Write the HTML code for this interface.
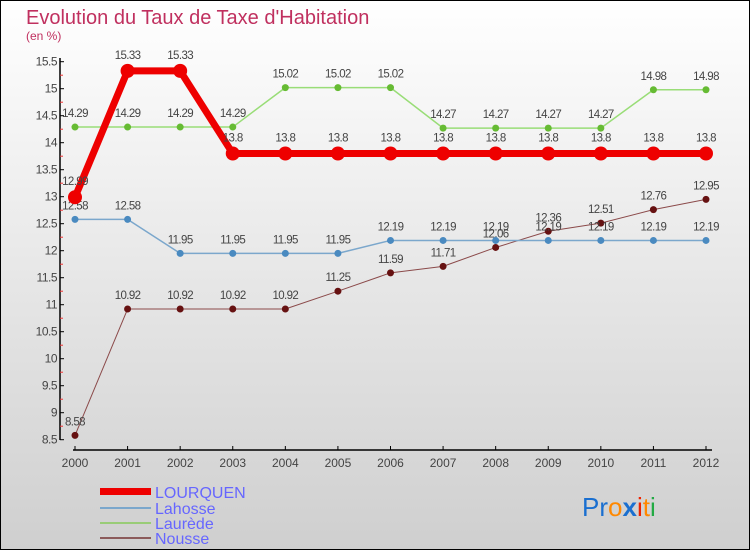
<!DOCTYPE html>
<html><head><meta charset="utf-8"><style>
body{margin:0;padding:0}
svg text{font-family:"Liberation Sans",sans-serif}
</style></head><body>
<svg id="c" width="750" height="550" xmlns="http://www.w3.org/2000/svg">
<defs><linearGradient id="bg" x1="0" y1="0" x2="0" y2="1"><stop offset="0" stop-color="#ffffff"/><stop offset="1" stop-color="#cfcfcf"/></linearGradient></defs>
<rect x="0.5" y="0.5" width="749" height="549" fill="url(#bg)" stroke="#000"/>
<text x="26" y="24" font-size="20" fill="#c0305f">Evolution du Taux de Taxe d'Habitation</text>
<text x="26" y="40" font-size="12" fill="#c0305f">(en %)</text>
<g id="axes"></g><g id="series"></g>
<g>
<rect x="100" y="488" width="51" height="7" fill="#ee0000"/>
<text x="155" y="498" font-size="16" fill="#6666ff">LOURQUEN</text>
<rect x="100" y="507" width="51" height="2" fill="#7ba7cc"/>
<text x="155" y="514" font-size="16" fill="#6666ff">Lahosse</text>
<rect x="100" y="522" width="51" height="2" fill="#99cc77"/>
<text x="155" y="529" font-size="16" fill="#6666ff">Laurède</text>
<rect x="100" y="537" width="51" height="2" fill="#8b5a5a"/>
<text x="155" y="544" font-size="16" fill="#6666ff">Nousse</text>
</g>
<text x="582" y="516" font-size="26"><tspan fill="#1a6fd0">Pr</tspan><tspan fill="#ff8800">o</tspan><tspan fill="#1a6fd0" font-weight="bold">x</tspan><tspan fill="#ee2200">i</tspan><tspan fill="#ff8800">t</tspan><tspan fill="#22aa44">i</tspan></text>
</svg>
<script>
const years=["2000","2001","2002","2003","2004","2005","2006","2007","2008","2009","2010","2011","2012"];
const yTicks=[8.5,9,9.5,10,10.5,11,11.5,12,12.5,13,13.5,14,14.5,15,15.5];
const lourquen=[12.99,15.33,15.33,13.8,13.8,13.8,13.8,13.8,13.8,13.8,13.8,13.8,13.8];
const lahosse=[12.58,12.58,11.95,11.95,11.95,11.95,12.19,12.19,12.19,12.19,12.19,12.19,12.19];
const laurede=[14.29,14.29,14.29,14.29,15.02,15.02,15.02,14.27,14.27,14.27,14.27,14.98,14.98];
const nousse=[8.58,10.92,10.92,10.92,10.92,11.25,11.59,11.71,12.06,12.36,12.51,12.76,12.95];
const NS="http://www.w3.org/2000/svg";
const xs=i=>75+i*(706-75)/12;
const ys=v=>439.7-(v-8.5)*(439.7-61.7)/7;
function mk(tag,attrs,parent){const e=document.createElementNS(NS,tag);for(const k in attrs)e.setAttribute(k,attrs[k]);parent.appendChild(e);return e;}
const ax=document.getElementById('axes');
let l=mk('line',{x1:60,y1:58,x2:60,y2:440,stroke:'#000','stroke-width':1.5},ax);


l=mk('line',{x1:73,y1:450,x2:712,y2:450,stroke:'#000','stroke-width':1.5},ax);


yTicks.forEach((v,i)=>{
  const y=ys(v);
  mk('line',{x1:60,y1:y,x2:64,y2:y,stroke:'#000'},ax);
  if(i<yTicks.length-1) mk('line',{x1:60,y1:(y+ys(v+0.5))/2,x2:63,y2:(y+ys(v+0.5))/2,stroke:'#ee3333'},ax);
  const t=mk('text',{x:57,y:y+4,'font-size':12,fill:'#444','text-anchor':'end','letter-spacing':'-0.5'},ax);
  t.textContent=String(v);
  
  
});
years.forEach((yr,i)=>{
  const x=xs(i);
  mk('line',{x1:x,y1:446,x2:x,y2:450,stroke:'#000'},ax);
  const t=mk('text',{x:x,y:467,'font-size':12,fill:'#444','text-anchor':'middle'},ax);
  t.textContent=yr;
  
  
});
const sg=document.getElementById('series');
function draw(name,vals,color,dot,w,r,off){
  const g=mk('g',{},sg);
  
  
  const p=mk('polyline',{points:vals.map((v,i)=>xs(i)+','+ys(v)).join(' '),fill:'none',stroke:color,'stroke-width':w,'stroke-linejoin':'round'},g);
  
  
  vals.forEach((v,i)=>{
    const c=mk('circle',{cx:xs(i),cy:ys(v),r:r,fill:dot},g);
    
    
    const t=mk('text',{x:xs(i),y:ys(v)+off,'font-size':11.5,fill:'#444','text-anchor':'middle','letter-spacing':'-0.6'},g);
    t.textContent=String(v);
    
    
  });
}
draw('nousse',nousse,'#8b4a4a','#661111',1,3.5,-10);
draw('lahosse',lahosse,'#7ba7cc','#4a8ac0',1.5,3.5,-10);
draw('laurede',laurede,'#99dd77','#66bb33',1.5,3.5,-10);
draw('lourquen',lourquen,'#ee0000','#ee0000',7,7,-12);
</script>
</body></html>
